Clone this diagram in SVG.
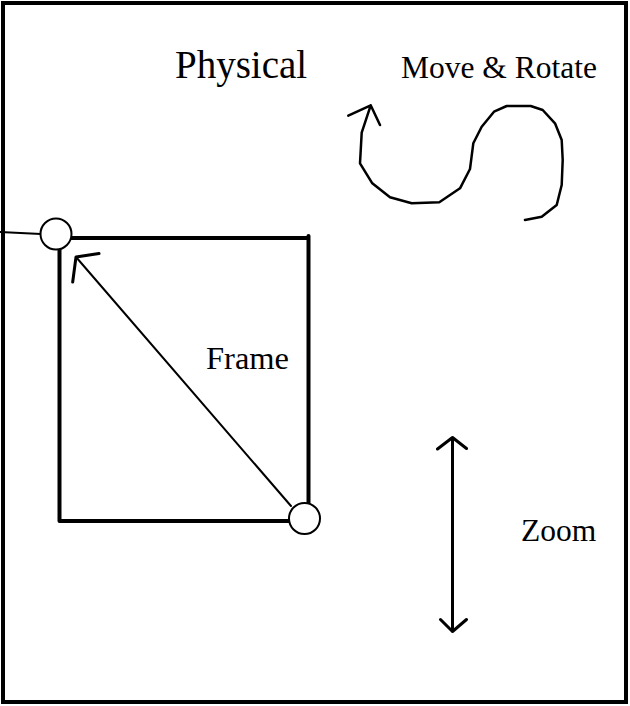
<svg xmlns="http://www.w3.org/2000/svg" width="630" height="706" viewBox="0 0 630 706">
<style>
text{font-family:"Liberation Serif","Times New Roman",serif;fill:#000}
.ln{fill:none;stroke:#000;stroke-linecap:round;stroke-linejoin:round}
.c{fill:#fff;stroke:#000;stroke-width:2}
</style>
<rect width="630" height="706" fill="#fff"/>
<g id="border"><rect x="3" y="3" width="623" height="699" fill="none" stroke="#000" stroke-width="4"/></g>
<g id="connectors">
<path class="ln" stroke-width="2" d="M0,232 L41,234"/>
<path class="ln" stroke-width="2" d="M291,506 L76,257"/>
<path class="ln" stroke-width="3" d="M72.7,282 L76,257 L99,253.5"/>
<path class="ln" stroke-width="2.5" d="M348.3,115.7 L370.7,105.3 L380,125 M370.7,105.3 L361.7,132.7 L360,163.3 L372.3,183.3 L390,197.3 L411.7,203.3 L439.3,202.3 L460,188.3 L470,169 L473.3,143.3 L481.7,126.7 L494,111.7 L506.7,106 L530.7,106 L542.7,110 L555,123.3 L561.7,140 L562.7,160 L561.7,185 L556.7,205 L541.7,216.7 L525,220"/>
<path class="ln" stroke-width="3" d="M452.5,437.5 L452.5,631.5 M437.5,449 L452.5,437.5 L466.5,448.5 M440.5,619.5 L452.5,631.5 L466.5,619.5"/>
</g>
<g id="frame"><path class="ln" stroke-width="4" stroke-linecap="butt" stroke-linejoin="miter" d="M59.5,238 L308.5,238 M308.5,236 L308.5,521 L59.5,521 L59.5,238"/></g>
<g id="corner-top"><circle class="c" cx="56" cy="234" r="15.5"/></g>
<g id="corner-bottom"><circle class="c" cx="304.5" cy="518.5" r="15.5"/></g>
<g id="labels">
<text x="175" y="78" font-size="39">Physical</text>
<text x="401" y="77.5" font-size="31.5">Move &amp; Rotate</text>
<text x="206" y="368.5" font-size="32.5">Frame</text>
<text x="521" y="541" font-size="31.5">Zoom</text>
</g>
</svg>
